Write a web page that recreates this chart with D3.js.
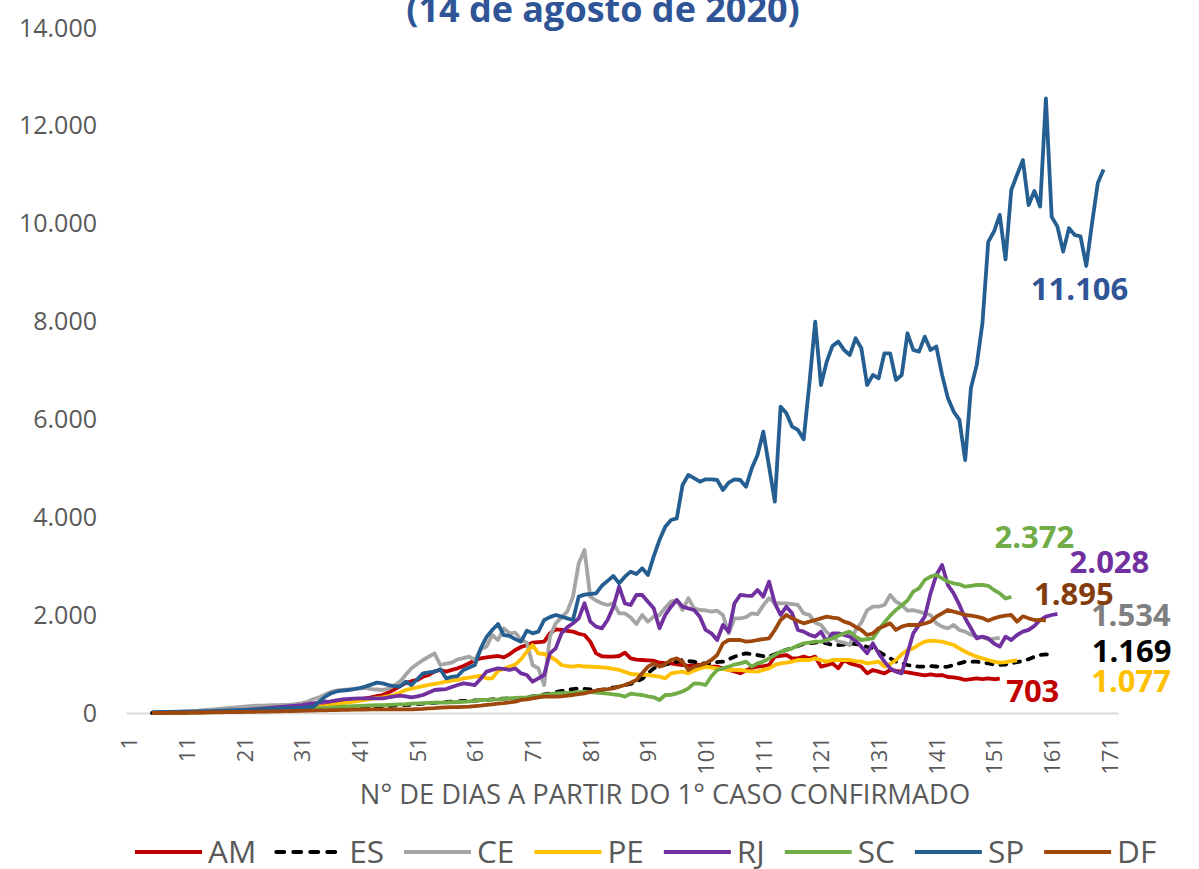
<!DOCTYPE html>
<html>
<head>
<meta charset="utf-8">
<script src="https://cdn.jsdelivr.net/npm/d3@7"></script>
<style>
body { margin: 0; background: #fff; }
text { font-family: "Open Sans", sans-serif; }
</style>
</head>
<body>
<div id="canvas"></div>
<script>
var width = 1199;
var height = 869;

// every series starts on day 5 (one value per day)
var startDay = 5;

var amValues = [
  0,5,5,10,10,15,15,20,20,25,
  30,30,35,40,40,45,50,55,60,65,
  70,75,80,85,90,95,100,110,120,129,
  150,175,198,220,240,260,280,300,320,345,
  368,420,480,550,610,650,675,740,777,850,
  879,845,880,913,960,1015,1083,1117,1138,1151,
  1165,1138,1200,1288,1350,1390,1438,1450,1458,1628,
  1710,1697,1680,1663,1620,1594,1458,1219,1160,1151,
  1151,1165,1233,1117,1090,1083,1075,1069,1028,1020,
  1015,995,981,961,981,981,960,947,947,910,
  879,850,811,870,920,947,960,981,1151,1170,
  1185,1117,1117,1151,1117,1151,947,980,1015,913,
  1083,1015,980,947,811,879,845,811,879,860,
  845,830,811,790,770,790,770,777,736,730,
  709,675,690,709,690,709,690,703
];

var esValues = [
  0,0,5,5,5,10,10,10,15,15,
  20,20,20,25,25,30,30,35,35,40,
  40,45,45,50,55,55,60,60,65,70,
  70,75,80,85,90,95,100,110,120,125,
  129,140,150,160,164,170,180,190,198,205,
  215,225,232,238,245,250,255,260,266,280,
  290,295,300,300,300,320,340,350,380,400,
  430,450,470,490,500,495,484,478,470,500,
  520,538,570,593,640,700,811,913,947,990,
  1015,1050,1083,1060,1049,1015,1015,1015,1040,1049,
  1100,1151,1190,1219,1200,1185,1160,1151,1200,1253,
  1290,1322,1370,1410,1424,1440,1458,1420,1390,1390,
  1400,1424,1410,1390,1350,1322,1253,1185,1117,1049,
  1015,981,960,947,950,960,950,940,947,981,
  1015,1049,1049,1049,1030,1015,990,981,990,1015,
  1040,1063,1100,1151,1185,1200,1169
];

var ceValues = [
  10,15,20,25,30,35,40,45,50,60,
  70,80,90,100,110,120,130,140,150,150,
  155,160,160,165,170,180,200,230,286,320,
  380,430,460,470,480,490,500,511,490,480,
  470,500,560,640,780,913,1000,1083,1150,1220,
  981,1010,1028,1097,1120,1151,1083,1300,1356,1594,
  1492,1730,1628,1642,1500,1438,981,913,572,1560,
  1833,1950,2071,2378,3059,3332,2378,2300,2242,2208,
  2242,2037,2037,1950,1819,2003,1867,1969,2003,2150,
  2276,2310,2105,2344,2139,2105,2098,2071,2091,2003,
  1628,1935,1935,1960,2037,2020,2200,2344,2250,2242,
  2240,2225,2208,2037,2003,1846,1799,1650,1560,1458,
  1440,1390,1697,1846,2100,2173,2173,2208,2412,2276,
  2208,2091,2100,2071,2037,2003,1833,1764,1731,1799,
  1696,1662,1600,1560,1547,1500,1520,1534
];

var peValues = [
  0,0,5,5,5,10,10,10,15,15,
  20,20,25,25,30,35,40,45,50,55,
  60,65,70,75,80,85,90,100,110,120,
  140,160,180,198,215,235,250,266,290,310,
  320,345,368,420,470,500,525,550,575,593,
  615,640,660,675,709,722,743,756,709,709,
  860,900,950,990,1100,1250,1390,1219,1206,1150,
  1083,981,960,947,967,950,947,940,934,920,
  900,879,840,797,790,780,777,760,743,709,
  811,830,845,811,866,913,947,930,913,895,
  879,880,879,860,850,845,880,913,980,1015,
  1030,1049,1083,1083,1083,1117,1080,1049,1083,1083,
  1083,1083,1060,1049,1015,1030,1049,947,1000,1083,
  1200,1287,1322,1400,1458,1478,1470,1458,1424,1390,
  1322,1253,1200,1151,1117,1083,1049,1028,1040,1060,
  1077
];

var rjValues = [
  0,5,5,10,10,15,15,20,20,25,
  25,30,35,40,45,50,60,70,80,90,
  100,110,120,130,140,150,160,180,198,215,
  230,238,260,280,286,295,300,300,300,300,
  300,320,340,354,340,320,340,368,420,470,
  480,490,530,572,606,590,572,700,845,880,
  913,900,879,913,811,777,640,709,777,1219,
  1322,1628,1750,1833,1935,2242,1867,1764,1731,1901,
  2173,2582,2242,2208,2412,2412,2276,2139,1731,2003,
  2173,2310,2173,2139,2105,1969,1697,1628,1492,1799,
  1662,2242,2412,2400,2392,2514,2378,2685,2242,2003,
  2173,2037,1697,1662,1600,1560,1662,1458,1628,1628,
  1594,1560,1480,1356,1219,1424,1219,1050,913,845,
  811,1219,1628,1800,1969,2446,2821,3025,2616,2446,
  2208,1935,1731,1526,1560,1526,1420,1356,1560,1492,
  1594,1662,1700,1780,1900,1970,2003,2028
];

var scValues = [
  0,0,0,5,5,5,10,10,10,15,
  15,20,20,25,25,30,30,35,35,40,
  45,50,55,60,65,70,75,80,90,100,
  105,110,120,129,135,140,145,150,155,160,
  160,165,170,175,180,190,198,200,205,210,
  211,215,220,225,230,238,250,266,270,275,
  279,290,300,310,315,320,334,350,368,385,
  402,405,410,416,425,436,425,416,405,395,
  380,368,334,395,380,368,340,320,266,368,
  370,402,440,504,606,600,572,750,879,913,
  947,990,1015,1049,947,1015,1050,1117,1185,1253,
  1290,1322,1380,1424,1440,1458,1458,1490,1526,1580,
  1628,1662,1560,1492,1510,1526,1697,1850,1990,2105,
  2200,2300,2480,2548,2719,2787,2821,2750,2685,2651,
  2630,2582,2600,2616,2616,2600,2514,2446,2340,2372
];

var spValues = [
  10,15,20,20,25,25,30,30,35,40,
  40,45,50,55,60,60,65,70,75,80,
  85,90,95,100,100,105,110,120,130,230,
  330,400,440,455,470,490,511,540,580,620,
  606,572,550,540,640,572,690,811,830,845,
  893,709,740,756,879,930,981,1322,1550,1697,
  1819,1594,1574,1510,1458,1683,1628,1663,1901,1960,
  2003,1969,1935,1901,2378,2420,2432,2446,2600,2700,
  2800,2650,2787,2889,2841,2957,2821,3200,3536,3809,
  3945,3979,4660,4865,4800,4728,4776,4776,4762,4558,
  4708,4776,4762,4626,5001,5274,5750,5035,4319,6261,
  6126,5852,5785,5594,6739,7998,6704,7181,7502,7590,
  7420,7318,7659,7454,6704,6909,6841,7352,7352,6807,
  6909,7761,7420,7386,7692,7420,7490,6910,6440,6160,
  5990,5170,6640,7110,7970,9630,9840,10180,9270,10690,
  11000,11300,10380,10670,10350,12560,10140,9940,9430,9910,
  9770,9740,9140,10010,10830,11106
];

var dfValues = [
  0,0,0,5,5,5,5,10,10,10,
  15,15,15,20,20,20,25,25,30,30,
  30,35,35,40,40,45,45,50,50,55,
  55,60,60,65,65,70,70,72,74,75,
  75,75,76,76,75,75,80,85,95,100,
  109,116,120,122,125,129,140,150,164,175,
  190,200,215,232,266,280,300,320,334,334,
  334,340,355,368,385,402,430,457,480,490,
  504,540,572,620,675,811,947,1015,947,1000,
  1083,1117,1049,879,947,980,1015,1083,1185,1424,
  1492,1492,1492,1458,1470,1492,1510,1526,1697,1901,
  2003,1935,1880,1833,1867,1901,1935,1969,1950,1935,
  1867,1833,1760,1697,1594,1628,1731,1780,1833,1697,
  1764,1799,1799,1799,1830,1867,1969,2037,2105,2071,
  2040,2003,1990,1969,1940,1887,1935,1969,1990,2003,
  1867,1976,1935,1901,1900,1895
];

var seriesNames = ["AM", "ES", "CE", "PE", "RJ", "SC", "SP", "DF"];
var seriesValues = [amValues, esValues, ceValues, peValues, rjValues, scValues, spValues, dfValues];
var seriesColors = ["#C00000", "#000000", "#A5A5A5", "#FFC000", "#7030A0", "#70AD47", "#255E91", "#9E480E"];

var endLabels = ["703", "1.169", "1.534", "1.077", "2.028", "2.372", "11.106", "1.895"];
var endLabelColors = ["#C00000", "#000000", "#7F7F7F", "#FFC000", "#7030A0", "#70AD47", "#2F5597", "#843C0C"];
// label offset from the last point of each series (px)
var endLabelOffsets = [[33, 13], [80, -5], [131, -23], [114, 21], [52, -52], [23, -60], [-24, 120], [28, -26]];

var yTicks = [0, 2000, 4000, 6000, 8000, 10000, 12000, 14000];
var xTicks = [1, 11, 21, 31, 41, 51, 61, 71, 81, 91, 101, 111, 121, 131, 141, 151, 161, 171];

var titleText = "(14 de agosto de 2020)";
var xTitle = "N° DE DIAS A PARTIR DO 1° CASO CONFIRMADO";

var ptBR = d3.formatLocale({decimal: ",", thousands: ".", grouping: [3], currency: ["R$", ""]});
var fmt = ptBR.format(",d");

var svg = d3.select("#canvas").append("svg")
      .attr("width", width)
      .attr("height", height);

var x = d3.scaleLinear().domain([0.5, 172.5]).range([126, 1118]);
var y = d3.scaleLinear().domain([0, 14000]).range([713, 28]);

// title (upper line falls outside the picture)
svg.append("text")
  .attr("x", 603)
  .attr("y", 22)
  .attr("text-anchor", "middle")
  .attr("font-size", 36)
  .attr("font-weight", "bold")
  .attr("fill", "#2F5597")
  .text(titleText);

// y axis, labels only
var yAxis = svg.append("g")
  .attr("transform", "translate(126,0)")
  .call(d3.axisLeft(y).tickValues(yTicks).tickSize(0).tickPadding(29).tickFormat(fmt));
yAxis.select(".domain").remove();
yAxis.selectAll("text")
  .attr("font-family", "Open Sans")
  .attr("font-size", 25)
  .attr("fill", "#595959");

// x axis
var xAxis = svg.append("g")
  .attr("transform", "translate(0,713)")
  .call(d3.axisBottom(x).tickValues(xTicks).tickSize(0).tickSizeOuter(0));
xAxis.select(".domain")
  .attr("stroke", "#D9D9D9")
  .attr("stroke-width", 2);
xAxis.selectAll("text")
  .attr("font-family", "Open Sans")
  .attr("font-size", 22)
  .attr("fill", "#595959")
  .attr("transform", "rotate(-90)")
  .attr("text-anchor", "end")
  .attr("x", -24)
  .attr("y", 0)
  .attr("dy", "0.36em");

svg.append("text")
  .attr("x", 665)
  .attr("y", 804)
  .attr("text-anchor", "middle")
  .attr("font-size", 27.3)
  .attr("fill", "#595959")
  .text(xTitle);

// lines
var line = d3.line()
  .x(function(d, i) { return x(startDay + i); })
  .y(function(d) { return y(d); });

svg.selectAll("path.serie")
  .data(seriesValues)
  .enter().append("path")
  .attr("class", "serie")
  .attr("d", line)
  .attr("fill", "none")
  .attr("stroke", function(d, i) { return seriesColors[i]; })
  .attr("stroke-width", 3.8)
  .attr("stroke-linejoin", "round")
  .attr("stroke-linecap", function(d, i) { return seriesNames[i] == "ES" ? "round" : "butt"; })
  .attr("stroke-dasharray", function(d, i) { return seriesNames[i] == "ES" ? "6,8" : null; });

// value labels at end of each line
svg.selectAll("text.endlabel")
  .data(seriesValues)
  .enter().append("text")
  .attr("class", "endlabel")
  .attr("x", function(d, i) { return x(startDay + d.length - 1) + endLabelOffsets[i][0]; })
  .attr("y", function(d, i) { return y(d[d.length - 1]) + endLabelOffsets[i][1]; })
  .attr("dy", "0.35em")
  .attr("text-anchor", "middle")
  .attr("font-size", 31)
  .attr("font-weight", "bold")
  .attr("fill", function(d, i) { return endLabelColors[i]; })
  .text(function(d, i) { return endLabels[i]; });

// legend
var legend = svg.append("g");
var lx = 135;
seriesNames.forEach(function(name, i) {
  legend.append("line")
    .attr("x1", lx).attr("x2", lx + 67)
    .attr("y1", 852).attr("y2", 852)
    .attr("stroke", seriesColors[i])
    .attr("stroke-width", 3.8)
    .attr("stroke-linecap", name == "ES" ? "round" : "butt")
    .attr("stroke-dasharray", name == "ES" ? "8,9" : null);
  var t = legend.append("text")
    .attr("x", lx + 73)
    .attr("y", 852)
    .attr("dy", "0.35em")
    .attr("font-size", 31.5)
    .attr("fill", "#595959")
    .text(name);
  lx = lx + 73 + t.node().getComputedTextLength() + 20;
});
</script>
</body>
</html>
